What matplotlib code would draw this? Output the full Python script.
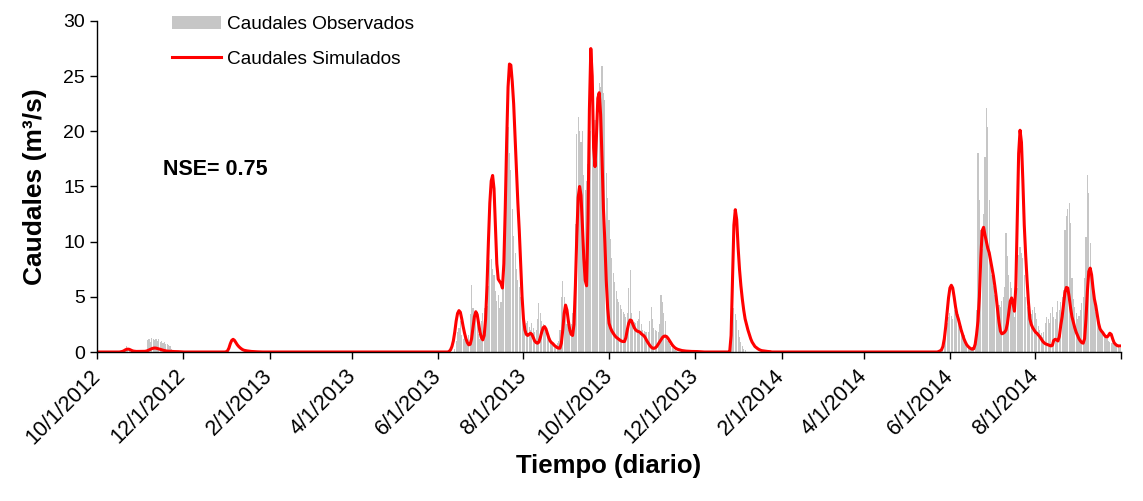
import numpy as np
import pandas as pd
import matplotlib
matplotlib.use("Agg")
import matplotlib.pyplot as plt

plt.rcParams['font.family'] = ['Liberation Sans', 'DejaVu Sans']

# Daily period shown on the chart
days = pd.date_range('2012-10-01', '2014-10-01', freq='D')

# Simulated flow (m3/s), daily values of each runoff event; zero elsewhere
sim_oct2012_start = '2012-10-18'
sim_oct2012 = [0.02, 0.05, 0.1, 0.18, 0.24, 0.26, 0.24, 0.18, 0.12, 0.08, 0.06, 0.05, 0.05, 0.05, 0.05,
               0.05, 0.05, 0.06, 0.08, 0.12, 0.18, 0.24, 0.3, 0.34, 0.36, 0.35, 0.32, 0.28, 0.24, 0.2,
               0.16, 0.13, 0.1, 0.08, 0.07, 0.06, 0.05, 0.05, 0.04, 0.04, 0.03, 0.03, 0.02, 0.02, 0.01]

sim_jan2013_start = '2013-01-01'
sim_jan2013 = [0.02, 0.1, 0.35, 0.75, 1.05, 1.15, 1.05, 0.85, 0.65, 0.5, 0.38, 0.28, 0.2, 0.15, 0.12,
               0.1, 0.08, 0.06, 0.05, 0.04, 0.03, 0.03, 0.02, 0.02, 0.01]

sim_2013_start = '2013-06-09'
sim_2013 = [0.05, 0.2, 0.5, 1.0, 1.8, 2.8, 3.5, 3.75, 3.6, 3.0,
            2.3, 1.7, 1.2, 0.85, 0.65, 0.7, 1.2, 2.2, 3.2, 3.65,
            3.4, 2.6, 1.8, 1.3, 1.1, 1.5, 3.0, 6.0, 10.0, 13.5,
            15.5, 16.0, 14.8, 11.5, 8.0, 6.6, 6.4, 6.2, 5.8, 8.0,
            13.0, 19.0, 24.0, 26.1, 26.0, 24.5, 22.5, 19.5, 16.5, 13.5,
            11.0, 8.0, 5.0, 3.0, 2.0, 1.6, 1.5, 1.6, 1.7, 1.6,
            1.3, 1.0, 0.85, 0.8, 0.9, 1.3, 1.8, 2.2, 2.3, 2.1,
            1.7, 1.3, 1.0, 0.85, 0.75, 0.6, 0.5, 0.4, 0.35, 0.35,
            0.8, 2.0, 3.5, 4.25, 3.8, 2.8, 2.0, 1.6, 1.5, 2.5,
            6.0, 10.5, 14.0, 15.0, 14.2, 11.5, 8.5, 6.5, 6.0, 12.0,
            22.0, 27.5, 25.0, 18.5, 16.8, 19.5, 23.0, 23.5, 21.5, 17.5,
            13.0, 10.0, 6.5, 4.0, 2.6, 2.2, 1.9, 1.7, 1.5, 1.35,
            1.25, 1.15, 1.05, 0.98, 0.95, 0.95, 1.3, 2.0, 2.6, 2.9,
            2.85, 2.5, 2.2, 2.0, 1.9, 1.85, 1.8, 1.65, 1.55, 1.45,
            1.25, 1.0, 0.8, 0.6, 0.45, 0.35, 0.33, 0.38, 0.5, 0.7,
            0.9, 1.1, 1.3, 1.42, 1.45, 1.4, 1.25, 1.05, 0.85, 0.65,
            0.5, 0.38, 0.3, 0.24, 0.2, 0.16, 0.13, 0.11, 0.09, 0.08,
            0.07, 0.06, 0.06, 0.05, 0.05, 0.05, 0.04, 0.04, 0.03, 0.03]

sim_dec2013_start = '2013-12-26'
sim_dec2013 = [0.02, 1.5, 6.5, 11.5, 12.9, 12.0, 9.5, 7.5, 6.0, 4.8, 3.8, 3.0, 2.5, 2.0, 1.6,
               1.2, 0.9, 0.7, 0.5, 0.4, 0.3, 0.22, 0.16, 0.12, 0.1, 0.08, 0.06, 0.05, 0.04, 0.03]

sim_2014_start = '2014-05-24'
sim_2014 = [0.05, 0.1, 0.2, 0.5, 1.2, 2.3, 3.6, 4.9, 5.8, 6.05,
            5.8, 5.0, 4.1, 3.4, 3.0, 2.5, 2.0, 1.6, 1.2, 0.9,
            0.65, 0.5, 0.38, 0.3, 0.25, 0.3, 0.7, 1.6, 2.8, 5.0,
            8.5, 11.0, 11.3, 10.6, 10.0, 9.4, 9.0, 8.3, 7.6, 6.9,
            6.0, 5.0, 3.8, 2.7, 1.9, 1.65, 1.7, 1.8, 2.0, 2.6,
            3.6, 4.6, 4.9, 4.4, 3.7, 6.0, 12.0, 18.0, 20.1, 19.0,
            15.5, 11.5, 8.8, 6.5, 4.5, 3.0, 2.5, 2.2, 2.0, 1.8,
            1.7, 1.55, 1.4, 1.2, 1.0, 0.85, 0.75, 0.7, 0.65, 0.6,
            0.55, 0.6, 1.05, 1.15, 1.1, 1.0, 1.4, 2.4, 3.2, 4.3,
            5.4, 5.85, 5.8, 5.0, 4.0, 3.2, 2.7, 2.2, 1.8, 1.5,
            1.2, 1.0, 0.85, 0.8, 1.2, 3.0, 5.5, 7.3, 7.6, 7.0,
            5.8, 4.8, 4.2, 3.4, 2.6, 2.1, 1.9, 1.75, 1.55, 1.4,
            1.35, 1.5, 1.7, 1.6, 1.2, 0.85, 0.7, 0.6, 0.55, 0.55,
            0.55]

# Observed flow (m3/s), daily values of each event; zero elsewhere
obs_oct2012_start = '2012-10-21'
obs_oct2012 = [0.2, 0.5, 0.3, 0.1, 0, 0, 0, 0, 0, 0, 0, 0, 0, 0, 0, 0,
               1.1, 1.2, 0.9, 1.25, 1.2, 1.1, 1.2, 1.0, 1.15, 0.9, 1.0, 0.8, 0.9, 0.7,
               0.75, 0.6, 0.5, 0.3, 0.2, 0.1]

obs_2013_start = '2013-06-13'
obs_2013 = [0.3, 1.0, 1.8, 2.2, 2.8, 1.5, 1.2, 1.8, 1.0, 0.8,
            1.5, 3.4, 6.1, 4.0, 3.0, 3.4, 2.8, 1.6, 1.2, 2.8,
            3.5, 4.0, 4.5, 4.2, 6.0, 8.3, 8.4, 7.5, 7.0, 5.5,
            4.6, 5.2, 4.0, 4.5, 6.0, 7.5, 10.8, 14.0, 20.4, 18.0,
            16.5, 13.0, 10.5, 9.0, 7.5, 6.5, 5.9, 5.0, 4.2, 3.5,
            3.0, 2.6, 2.8, 2.3, 2.0, 2.6, 2.2, 1.8, 2.0, 3.0,
            4.4, 3.5, 2.8, 2.5, 2.2, 1.8, 1.5, 1.2, 1.0, 0.8,
            0.6, 0.5, 0.6, 0.8, 1.0, 2.0, 5.0, 6.4, 5.0, 3.5,
            2.5, 2.0, 1.8, 2.5, 3.5, 3.5, 11.6, 19.8, 21.3, 20.0,
            19.0, 20.0, 16.0, 14.7, 15.5, 17.0, 18.5, 20.0, 21.0, 22.2,
            21.0, 20.4, 22.0, 24.4, 24.0, 25.9, 23.5, 22.8, 16.2, 14.0,
            12.0, 10.2, 8.5, 7.2, 6.3, 5.5, 4.8, 4.5, 4.3, 3.9,
            3.6, 3.4, 3.2, 3.5, 5.8, 7.4, 3.5, 2.9, 2.7, 2.6,
            2.8, 3.0, 3.7, 2.5, 2.0, 1.9, 1.8, 1.8, 1.8, 2.8,
            4.1, 3.0, 2.2, 2.0, 1.9, 1.8, 2.5, 5.2, 4.5, 3.5,
            2.8, 1.3, 1.0, 0.7, 0.5, 0.4, 0.3, 0.2, 0.1]

obs_dec2013_start = '2013-12-27'
obs_dec2013 = [1.0, 4.4, 4.0, 3.4, 2.9, 2.0, 1.4, 0.9, 0.5, 0.3, 0.2]

obs_2014_start = '2014-05-27'
obs_2014 = [0.3, 0.8, 1.5, 2.6, 3.2, 3.5, 3.3, 3.0, 3.8, 3.6,
            3.8, 3.4, 2.9, 2.4, 2.0, 1.5, 1.1, 0.8, 0.6, 0.4,
            0.3, 0.2, 0.5, 1.5, 3.8, 18.0, 13.8, 11.1, 9.3, 12.5,
            17.7, 22.1, 20.4, 13.8, 8.8, 7.0, 6.0, 5.2, 4.5, 3.9,
            4.3, 4.1, 4.6, 5.0, 5.9, 10.8, 8.7, 7.0, 6.3, 5.8,
            4.4, 3.2, 4.2, 5.8, 8.8, 9.5, 9.0, 8.5, 7.0, 5.0,
            4.1, 3.6, 3.0, 3.4, 3.8, 4.1, 3.5, 3.0, 2.4, 2.0,
            1.7, 1.4, 1.8, 2.6, 3.2, 3.0, 2.6, 3.5, 4.1, 3.2,
            3.0, 3.6, 4.6, 3.8, 4.5, 5.0, 5.6, 11.1, 12.3, 13.0,
            13.5, 11.7, 6.7, 4.8, 4.1, 3.5, 3.0, 3.3, 3.8, 4.4,
            5.0, 6.7, 10.4, 16.0, 14.4, 9.9, 6.7, 5.5, 4.4, 3.6,
            3.0, 2.6, 2.3, 2.0, 1.8, 1.6, 1.4, 1.2, 1.0, 0.9,
            0.85, 0.8, 0.7, 0.6, 0.5, 0.45, 0.4, 0.35]

tick_dates = ['2012-10-01', '2012-12-01', '2013-02-01', '2013-04-01', '2013-06-01', '2013-08-01',
              '2013-10-01', '2013-12-01', '2014-02-01', '2014-04-01', '2014-06-01', '2014-08-01',
              '2014-10-01']
tick_labels = ['10/1/2012', '12/1/2012', '2/1/2013', '4/1/2013', '6/1/2013', '8/1/2013',
               '10/1/2013', '12/1/2013', '2/1/2014', '4/1/2014', '6/1/2014', '8/1/2014', '']


# Put event values into the full daily series
def place(series, start, values):
    i = days.get_loc(pd.Timestamp(start))
    series[i:i + len(values)] = values


sim = np.zeros(len(days))
for start, vals in [(sim_oct2012_start, sim_oct2012), (sim_jan2013_start, sim_jan2013),
                    (sim_2013_start, sim_2013), (sim_dec2013_start, sim_dec2013),
                    (sim_2014_start, sim_2014)]:
    place(sim, start, vals)

obs = np.zeros(len(days))
for start, vals in [(obs_oct2012_start, obs_oct2012), (obs_2013_start, obs_2013),
                    (obs_dec2013_start, obs_dec2013), (obs_2014_start, obs_2014)]:
    place(obs, start, vals)

fig = plt.figure(figsize=(11.43, 5.01), dpi=100)
ax = fig.add_axes([0.0849, 0.2974, 0.8959, 0.6607])

bars = ax.bar(days, obs, width=0.8, color='#c6c6c6', linewidth=0, label='Caudales Observados')
line, = ax.plot(days, sim, color='#ff0000', lw=2.2, label='Caudales Simulados')

ax.set_xlim(days[0], days[-1])
ax.set_ylim(0, 30)
ax.set_yticks(np.arange(0, 31, 5))
ax.set_xticks(pd.to_datetime(tick_dates))
ax.set_xticklabels(tick_labels, rotation=45, ha='right', va='center', rotation_mode='anchor')
ax.tick_params(axis='both', direction='out', length=5, width=1, labelsize=14, colors='black')
ax.tick_params(axis='x', pad=10, labelsize=15.5)

for s in ['top', 'right']:
    ax.spines[s].set_visible(False)
for s in ['left', 'bottom']:
    ax.spines[s].set_color('black')
    ax.spines[s].set_linewidth(1)

ax.set_ylabel('Caudales (m³/s)', fontsize=19, fontweight='bold', labelpad=12)
ax.set_xlabel('Tiempo (diario)', fontsize=18.5, fontweight='bold', labelpad=4)

ax.text(0.0645, 0.55, 'NSE= 0.75', transform=ax.transAxes, fontsize=15.5,
        fontweight='bold', va='center', ha='left')

ax.legend(handles=[bars, line], loc='upper left', bbox_to_anchor=(0.1505, 0.968),
          bbox_transform=fig.transFigure, frameon=False, fontsize=13.7, handlelength=2.6,
          handletextpad=0.3, labelspacing=0.9, borderpad=0, borderaxespad=0)

plt.savefig('out.png', dpi=100)
